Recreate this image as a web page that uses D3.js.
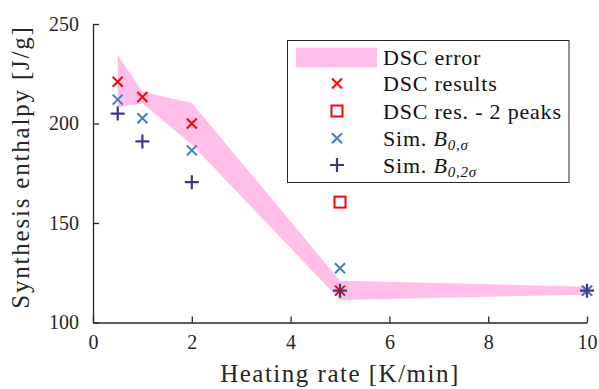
<!DOCTYPE html>
<html><head><meta charset="utf-8">
<script src="https://cdn.jsdelivr.net/npm/d3@7"></script>
<style>html,body{margin:0;padding:0;background:#fff;}svg{display:block;} text{font-family:'Liberation Serif',serif;}</style>
</head><body>
<svg id="chart" width="599" height="389" font-family="Liberation Serif"></svg>
<script>
// Data
const rates = [0.5, 1, 2, 5, 10];
const dscResults = [221, 213.3, 200, 116, 116];
const dscTwoPeaksRate = [5];
const dscTwoPeaks = [160.5];
const simB0s = [212, 202.6, 186.5, 127.3, 116];
const simB02s = [205, 191, 170.5, 116, 116];
const errUpper = [234.5, 216, 210.3, 121, 118];
const errLower = [208, 210.2, 189.5, 111.3, 114];
const xTicks = [0, 2, 4, 6, 8, 10];
const yTicks = [100, 150, 200, 250];

const FONT = "Liberation Serif";
const axisCol = "#262626";
const pink = "#ffbfe8";
const red = "#ff0000";
const blue = "#3f7fc5";
const navy = "#3b3a82";

const svg = d3.select("#chart");
const x = d3.scaleLinear().domain([0, 10]).range([93, 587]);
const y = d3.scaleLinear().domain([100, 250]).range([322.5, 24]);

// error band
const band = rates.map((r, i) => ({x: r, lo: errLower[i], hi: errUpper[i]}));
svg.append("path").datum(band)
  .attr("d", d3.area().x(d => x(d.x)).y0(d => y(d.lo)).y1(d => y(d.hi)))
  .attr("fill", pink).attr("stroke", "none");

// markers
function xMark(g, cx, cy, col, s) {
  g.append("path").attr("d", `M${cx-s},${cy-s}L${cx+s},${cy+s}M${cx-s},${cy+s}L${cx+s},${cy-s}`)
    .attr("stroke", col).attr("stroke-width", 2).attr("fill", "none");
}
function plusMark(g, cx, cy, col, s) {
  g.append("path").attr("d", `M${cx-s},${cy}L${cx+s},${cy}M${cx},${cy-s}L${cx},${cy+s}`)
    .attr("stroke", col).attr("stroke-width", 2.2).attr("fill", "none");
}
function sqMark(g, cx, cy, col, s) {
  g.append("rect").attr("x", cx-s).attr("y", cy-s).attr("width", 2*s).attr("height", 2*s)
    .attr("stroke", col).attr("stroke-width", 2).attr("fill", "none");
}
const gm = svg.append("g");
rates.forEach((r, i) => xMark(gm, x(r), y(dscResults[i]), red, 5));
dscTwoPeaksRate.forEach((r, i) => sqMark(gm, x(r), y(dscTwoPeaks[i]), red, 5.5));
rates.forEach((r, i) => xMark(gm, x(r), y(simB0s[i]), blue, 5));
rates.forEach((r, i) => plusMark(gm, x(r), y(simB02s[i]), navy, 7));

// axes
const xAxis = d3.axisBottom(x).tickValues(xTicks).tickSize(-6).tickPadding(12).tickSizeOuter(0);
const gx = svg.append("g").attr("transform", "translate(0,322.5)").call(xAxis);
const yAxis = d3.axisLeft(y).tickValues(yTicks).tickSize(-6).tickPadding(14).tickSizeOuter(0);
const gy = svg.append("g").attr("transform", "translate(93,0)").call(yAxis);
[gx, gy].forEach(g => {
  g.attr("font-family", FONT).attr("font-size", 20);
  g.select(".domain").attr("stroke", axisCol).attr("stroke-width", 1.3);
  g.selectAll(".tick line").attr("stroke", axisCol).attr("stroke-width", 1.3);
  g.selectAll(".tick text").attr("fill", axisCol).style("font-family", FONT).style("font-size", "20px");
});

// axis labels
svg.append("text").attr("x", 340).attr("y", 382).attr("text-anchor", "middle")
  .style("font-family", FONT).style("font-size", "25px").style("letter-spacing", "1.5px").attr("fill", axisCol)
  .text("Heating rate [K/min]");
svg.append("text").attr("transform", "translate(29,167) rotate(-90)").attr("text-anchor", "middle")
  .style("font-family", FONT).style("font-size", "25px").style("letter-spacing", "1.8px").attr("fill", axisCol)
  .text("Synthesis enthalpy [J/g]");

// legend
const lg = svg.append("g");
lg.append("rect").attr("x", 287.5).attr("y", 40.5).attr("width", 281.5).attr("height", 142)
  .attr("fill", "#fff").attr("stroke", axisCol).attr("stroke-width", 1);
const rowsY = [57, 83.5, 111, 138.3, 165];
const mx = 337, tx = 383;
lg.append("rect").attr("x", 296).attr("y", 47.5).attr("width", 81).attr("height", 20).attr("fill", pink);
xMark(lg, mx, rowsY[1], red, 5);
sqMark(lg, mx, rowsY[2], red, 5.5);
xMark(lg, mx, rowsY[3], blue, 5);
plusMark(lg, mx, rowsY[4], navy, 7);
const legTexts = ["DSC error", "DSC results", "DSC res. - 2 peaks"];
legTexts.forEach((t, i) => {
  lg.append("text").attr("x", tx).attr("y", rowsY[i]).attr("dy", "0.35em")
    .style("font-family", FONT).style("font-size", "22px").style("letter-spacing", "0.8px").attr("fill", "#111").text(t);
});
function simLabel(row, sub) {
  const t = lg.append("text").attr("x", tx).attr("y", rowsY[row]).attr("dy", "0.35em")
    .style("font-family", FONT).style("font-size", "22px").style("letter-spacing", "0.8px").attr("fill", "#111");
  t.append("tspan").text("Sim. ");
  t.append("tspan").attr("font-style", "italic").text("B");
  t.append("tspan").attr("font-size", "15px").attr("dy", "4").attr("font-style", "italic").text(sub);
}
simLabel(3, "0,σ");
simLabel(4, "0,2σ");
</script>
</body></html>
